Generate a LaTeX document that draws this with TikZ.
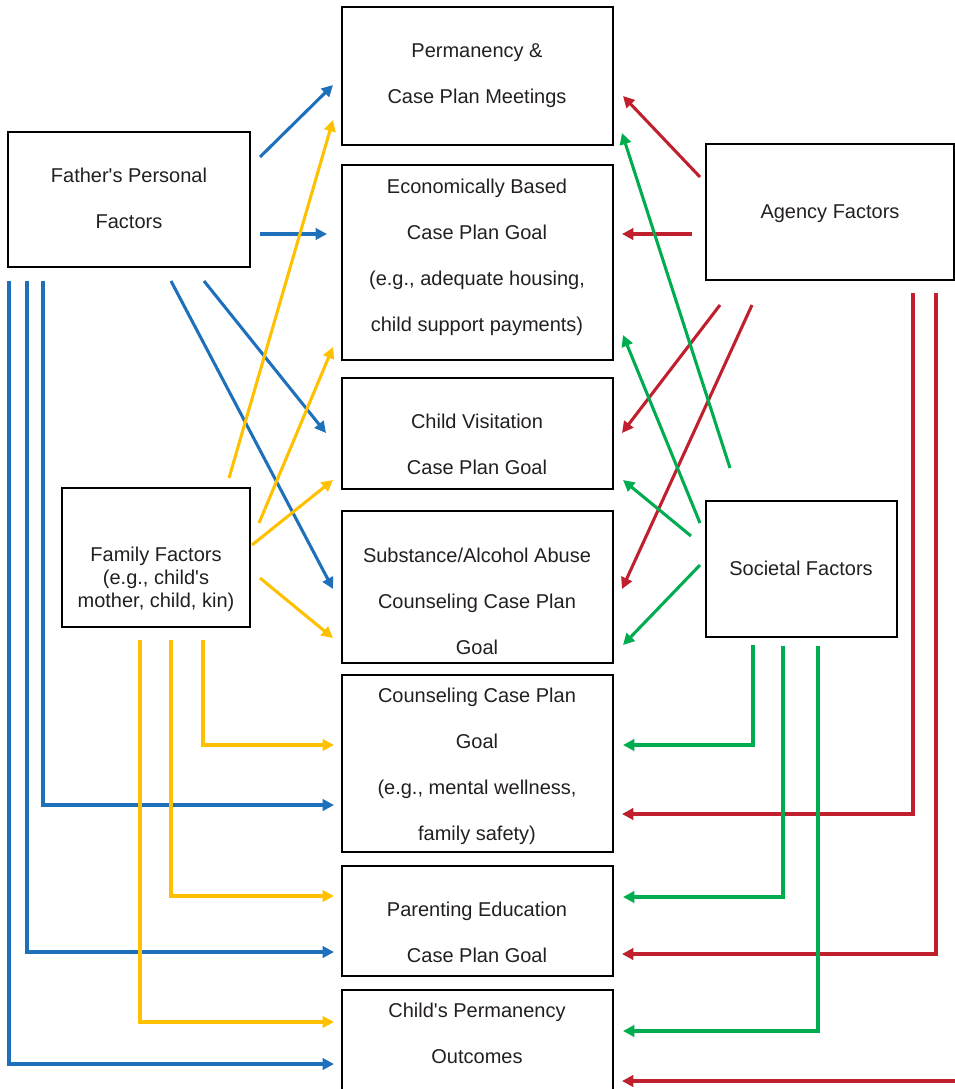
\documentclass[tikz,border=0pt]{standalone}
\usepackage{fontspec}
\setmainfont{Liberation Sans}[Ligatures=TeXOff]
\usetikzlibrary{arrows.meta,fit}
\definecolor{cblue}{RGB}{30,112,186}
\definecolor{cyel}{RGB}{255,192,0}
\definecolor{cred}{RGB}{192,32,45}
\definecolor{cgreen}{RGB}{0,172,80}
\definecolor{ctext}{RGB}{35,31,32}
\begin{document}
\begin{tikzpicture}[x=0.75pt,y=-0.75pt,
  box/.style={draw=black,line width=2.2pt,inner sep=0pt},
  lbl/.style={align=center,font=\fontsize{15}{34.5}\selectfont,text=ctext,inner sep=0pt},
  lbltight/.style={align=center,font=\fontsize{15}{17.25}\selectfont,text=ctext,inner sep=0pt},
  conn/.style={line width=2.3pt,-{Triangle[length=8.5pt,width=8.5pt]}},
  bl/.style={conn,draw=cblue},
  ye/.style={conn,draw=cyel},
  re/.style={conn,draw=cred},
  gr/.style={conn,draw=cgreen}]
\clip (0,0) rectangle (955,1089);
% boxes
\node[box,fit={(342,7)(613,145)}] (perm) {};
\node[box,fit={(342,165)(613,360)}] (econ) {};
\node[box,fit={(342,378)(613,489)}] (visit) {};
\node[box,fit={(342,511)(613,663)}] (subst) {};
\node[box,fit={(342,675)(613,852)}] (couns) {};
\node[box,fit={(342,866)(613,976)}] (parent) {};
\node[box,fit={(342,990)(613,1110)}] (outc) {};
\node[box,fit={(8,132)(250,267)}] (father) {};
\node[box,fit={(62,488)(250,627)}] (family) {};
\node[box,fit={(706,144)(954,280)}] (agency) {};
\node[box,fit={(706,501)(897,637)}] (societal) {};
% texts
\node[lbl] (permT) at (477,76) {Permanency \&\\Case Plan Meetings};
\node[lbl] (econT) at (477,257) {Economically Based\\Case Plan Goal\\(e.g., adequate housing,\\child support payments)};
\node[lbl] (visitT) at (477,444) {Child Visitation\\Case Plan Goal};
\node[lbl] (substT) at (477,601) {Substance/Alcohol Abuse\\Counseling Case Plan\\Goal};
\node[lbl] (counsT) at (477,766) {Counseling Case Plan\\Goal\\(e.g., mental wellness,\\family safety)};
\node[lbl] (parentT) at (477,932) {Parenting Education\\Case Plan Goal};
\node[lbl] (outcT) at (477,1033) {Child's Permanency\\Outcomes};
\node[lbl] (fatherT) at (129,198) {Father's Personal\\Factors};
\node[lbltight] (familyT) at (156,579) {Family Factors\\(e.g., child's\\mother, child, kin)};
\node[lbl] (agencyT) at (830,214) {Agency Factors};
\node[lbl] (societalT) at (801,568) {Societal Factors};
% coordinates: blue (father)
\coordinate (b1s) at (260,157); \coordinate (b1e) at (333,85);
\coordinate (b2s) at (260,234); \coordinate (b2e) at (327,234);
\coordinate (b3s) at (204,281); \coordinate (b3e) at (326,433);
\coordinate (b4s) at (171,281); \coordinate (b4e) at (333,589);
\coordinate (b5s) at (43,281);  \coordinate (b5e) at (334,805);
\coordinate (b6s) at (27,281);  \coordinate (b6e) at (334,952);
\coordinate (b7s) at (9,281);   \coordinate (b7e) at (334,1064);
% yellow (family)
\coordinate (y1s) at (229,478); \coordinate (y1e) at (333,120);
\coordinate (y2s) at (259,523); \coordinate (y2e) at (333,347);
\coordinate (y3s) at (252,545); \coordinate (y3e) at (333,480);
\coordinate (y4s) at (260,578); \coordinate (y4e) at (333,638);
\coordinate (y5s) at (203,640); \coordinate (y5e) at (334,745);
\coordinate (y6s) at (171,640); \coordinate (y6e) at (334,896);
\coordinate (y7s) at (140,640); \coordinate (y7e) at (334,1022);
% red (agency)
\coordinate (r1s) at (700,177); \coordinate (r1e) at (623,96);
\coordinate (r2s) at (692,234); \coordinate (r2e) at (622,234);
\coordinate (r3s) at (720,305); \coordinate (r3e) at (622,433);
\coordinate (r4s) at (752,305); \coordinate (r4e) at (622,589);
\coordinate (r5s) at (913,293); \coordinate (r5e) at (622,814);
\coordinate (r6s) at (936,293); \coordinate (r6e) at (622,954);
\coordinate (r7s) at (956,1081); \coordinate (r7e) at (622,1081);
% green (societal)
\coordinate (g1s) at (730,468); \coordinate (g1e) at (622,133);
\coordinate (g2s) at (700,523); \coordinate (g2e) at (623,335);
\coordinate (g3s) at (691,536); \coordinate (g3e) at (623,480);
\coordinate (g4s) at (700,565); \coordinate (g4e) at (623,645);
\coordinate (g5s) at (753,645); \coordinate (g5e) at (623,745);
\coordinate (g6s) at (783,646); \coordinate (g6e) at (623,897);
\coordinate (g7s) at (818,646); \coordinate (g7e) at (623,1031);
% connectors
\draw[bl] (b1s) -- (b1e);
\draw[bl] (b2s) -- (b2e);
\draw[bl] (b3s) -- (b3e);
\draw[bl] (b4s) -- (b4e);
\draw[bl] (b5s) |- (b5e);
\draw[bl] (b6s) |- (b6e);
\draw[bl] (b7s) |- (b7e);
\draw[ye] (y1s) -- (y1e);
\draw[ye] (y2s) -- (y2e);
\draw[ye] (y3s) -- (y3e);
\draw[ye] (y4s) -- (y4e);
\draw[ye] (y5s) |- (y5e);
\draw[ye] (y6s) |- (y6e);
\draw[ye] (y7s) |- (y7e);
\draw[re] (r1s) -- (r1e);
\draw[re] (r2s) -- (r2e);
\draw[re] (r3s) -- (r3e);
\draw[re] (r4s) -- (r4e);
\draw[re] (r5s) |- (r5e);
\draw[re] (r6s) |- (r6e);
\draw[re] (r7s) -- (r7e);
\draw[gr] (g1s) -- (g1e);
\draw[gr] (g2s) -- (g2e);
\draw[gr] (g3s) -- (g3e);
\draw[gr] (g4s) -- (g4e);
\draw[gr] (g5s) |- (g5e);
\draw[gr] (g6s) |- (g6e);
\draw[gr] (g7s) |- (g7e);
\end{tikzpicture}
\end{document}
